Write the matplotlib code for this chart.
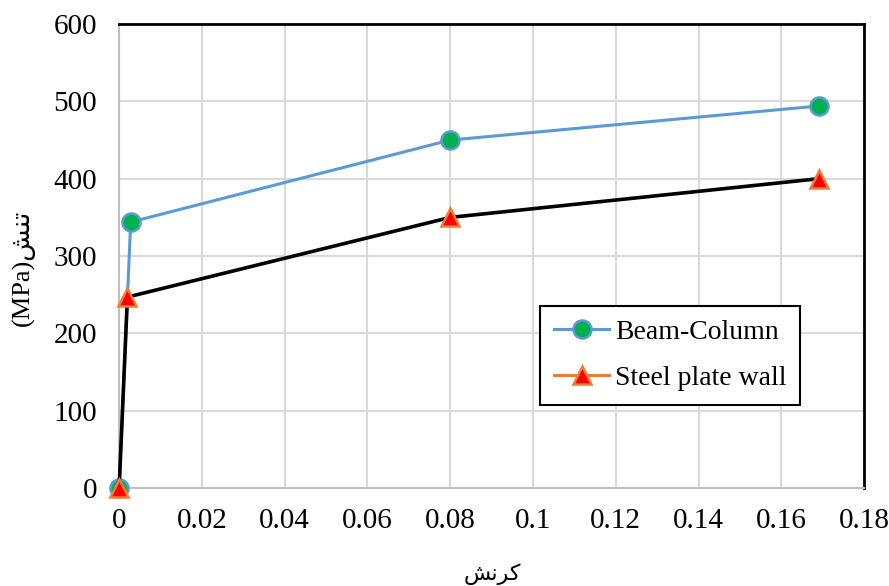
import matplotlib
matplotlib.use('Agg')
import matplotlib.pyplot as plt
from matplotlib.lines import Line2D

# strain / stress data
strain_bc = [0, 0.0028, 0.08, 0.169]
stress_bc = [0, 344, 450, 494]
strain_sp = [0, 0.002, 0.08, 0.169]
stress_sp = [0, 247, 350, 400]

xticks = [0, 0.02, 0.04, 0.06, 0.08, 0.1, 0.12, 0.14, 0.16, 0.18]
xtick_labels = ['0', '0.02', '0.04', '0.06', '0.08', '0.1', '0.12', '0.14', '0.16', '0.18']
yticks = [0, 100, 200, 300, 400, 500, 600]

# Arabic labels written in shaped, visual order (no text shaping in matplotlib)
xlabel_txt = '\uFEB6\uFEE7\uFEAE\uFB90'          # کرنش
ylabel_txt = '(MPa)\uFEB6\uFEE8\uFE97'           # تنش(MPa)

plt.rcParams['font.family'] = ['Liberation Serif', 'DejaVu Sans']

fig = plt.figure(figsize=(8.89, 5.86), dpi=100)
fig.patch.set_facecolor('white')
ax = fig.add_axes([0.134, 0.167, 0.838, 0.792])

ax.plot(strain_bc, stress_bc, color='#5B9BD5', linewidth=2.2, marker='o', markersize=13,
        markerfacecolor='#00B050', markeredgecolor='#5B9BD5', markeredgewidth=1.8,
        zorder=3, clip_on=False)
ax.plot(strain_sp, stress_sp, color='black', linewidth=2.6, marker='^', markersize=13,
        markerfacecolor='#FF0000', markeredgecolor='#ED7D31', markeredgewidth=1.8,
        zorder=4, clip_on=False)

ax.set_xlim(0, 0.18)
ax.set_ylim(0, 600)
ax.set_xticks(xticks)
ax.set_xticklabels(xtick_labels)
ax.set_yticks(yticks)
ax.grid(color='#D9D9D9', linewidth=1.5)
ax.set_axisbelow(True)
ax.tick_params(axis='both', length=0, labelsize=21, colors='black')
ax.tick_params(axis='x', pad=14)
ax.tick_params(axis='y', pad=16)

for s in ['left', 'bottom']:
    ax.spines[s].set_color('#BFBFBF')
    ax.spines[s].set_linewidth(1.5)
for s in ['top', 'right']:
    ax.spines[s].set_color('black')
    ax.spines[s].set_linewidth(2)

# axis titles placed like the original
fig.text(492 / 889, 1 - 574 / 586, xlabel_txt, fontsize=16, ha='center', va='center')
fig.text(23 / 889, 1 - 268 / 586, ylabel_txt, fontsize=19, rotation=90,
         ha='center', va='center')

handles = [
    Line2D([], [], color='#5B9BD5', linewidth=2.2, marker='o', markersize=13,
           markerfacecolor='#00B050', markeredgecolor='#5B9BD5', markeredgewidth=1.8),
    Line2D([], [], color='#ED7D31', linewidth=2.2, marker='^', markersize=13,
           markerfacecolor='#FF0000', markeredgecolor='#ED7D31', markeredgewidth=1.8),
]
leg = ax.legend(handles, ['Beam-Column', 'Steel plate wall'], loc='lower left',
                bbox_to_anchor=(0.565, 0.179), fontsize=20, fancybox=False,
                framealpha=1, edgecolor='black', handlelength=2.0, handletextpad=0.2,
                borderpad=0.5, labelspacing=0.75, borderaxespad=0)
leg.get_frame().set_linewidth(1.5)

fig.savefig('out.png', dpi=100)
